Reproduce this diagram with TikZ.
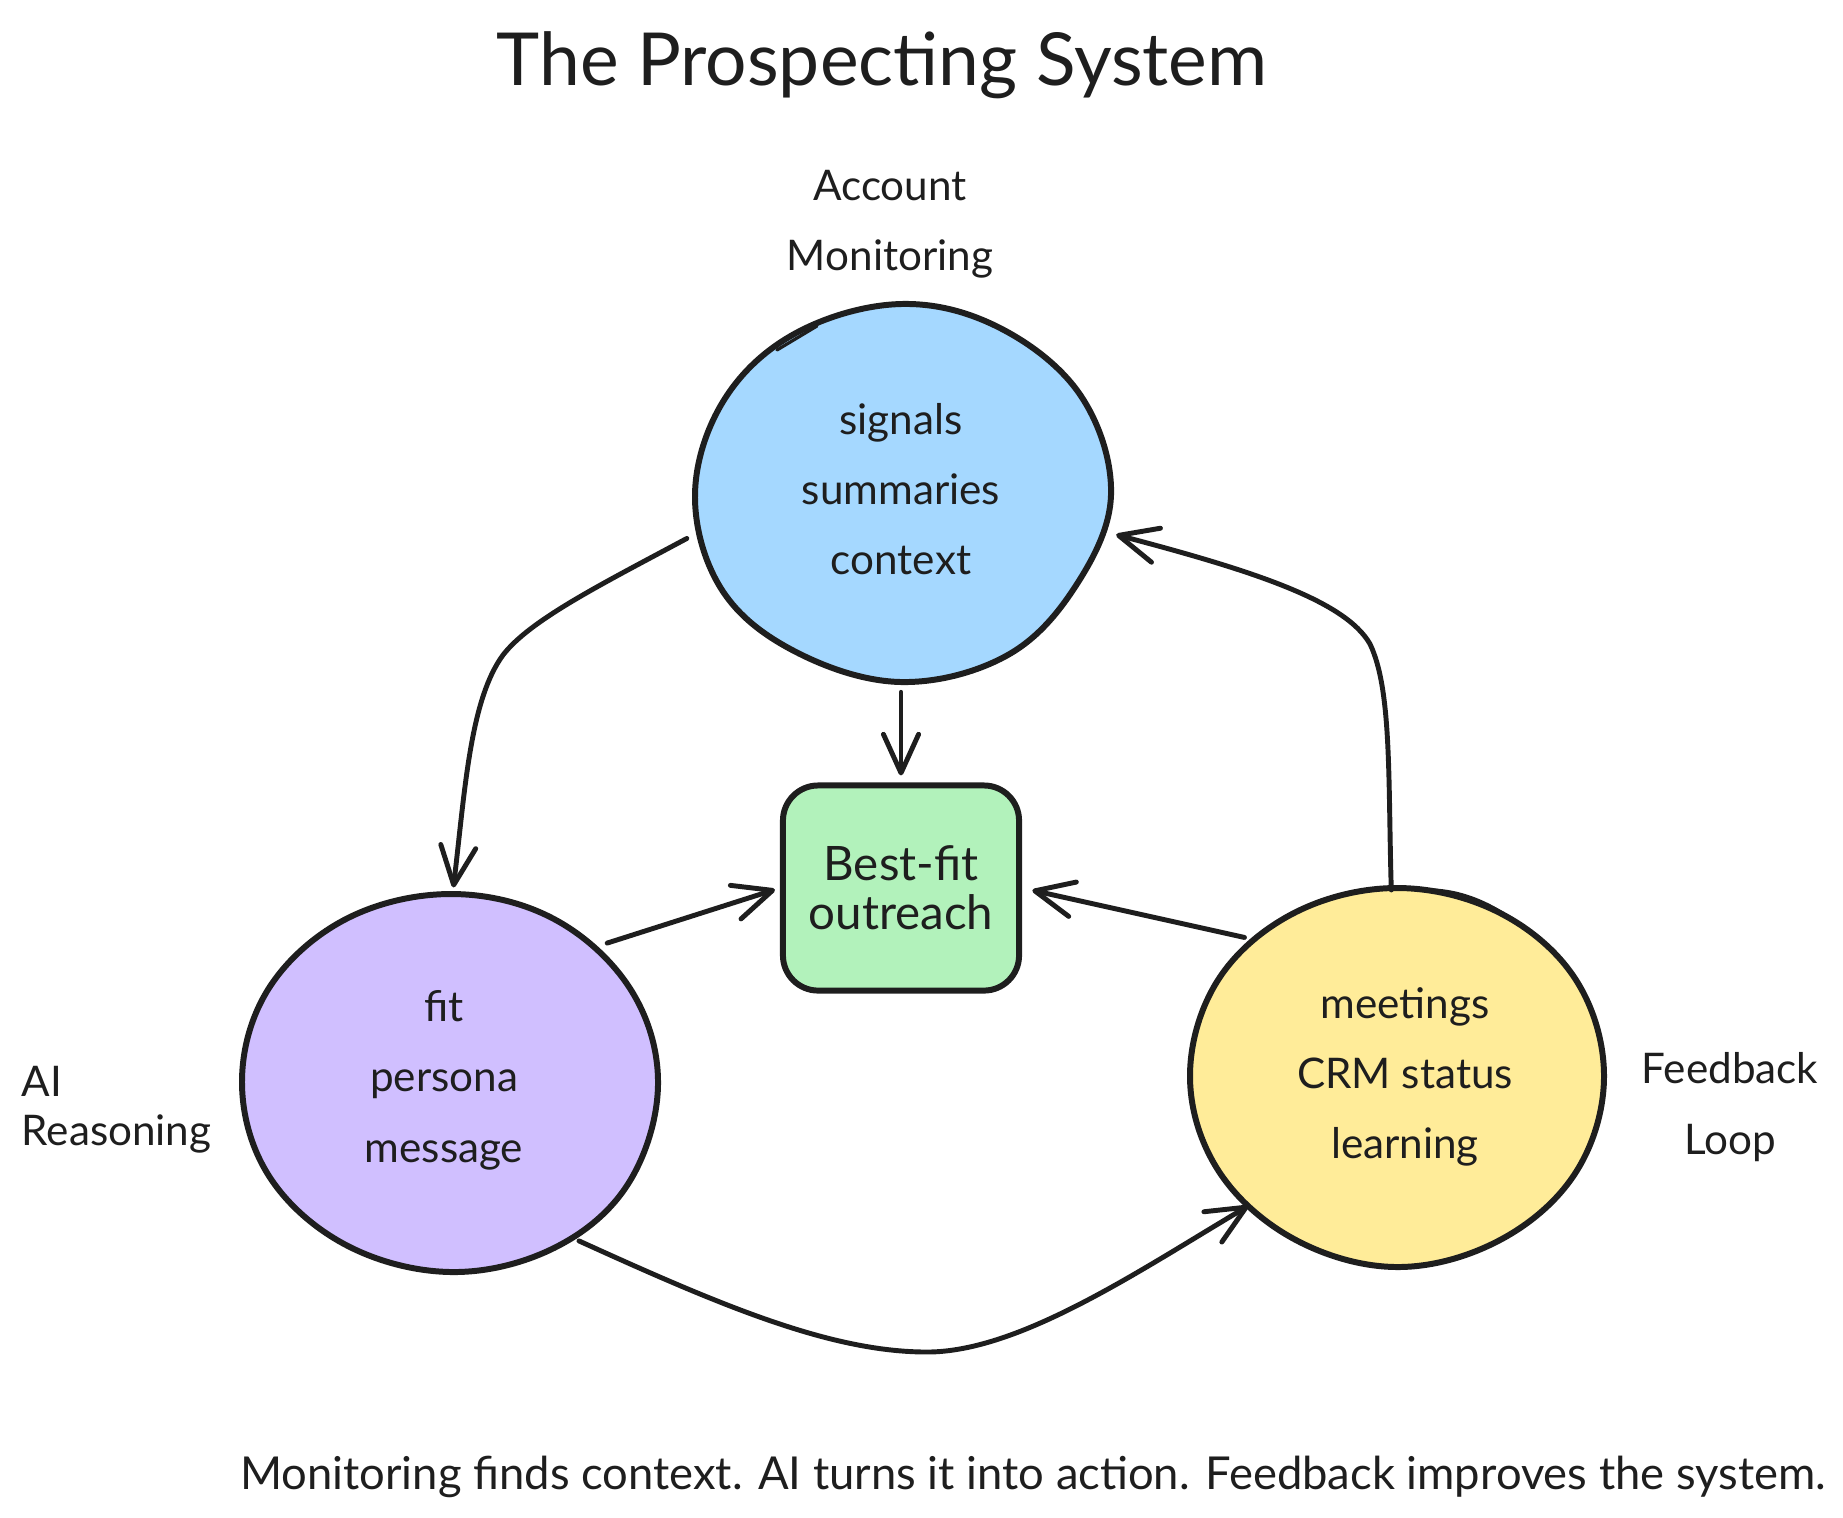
\documentclass[tikz,border=0pt]{standalone}
\usepackage{fontspec}
\setmainfont{Lato}
\usetikzlibrary{shapes.geometric,arrows.meta}
\definecolor{ink}{HTML}{1E1E1E}
\definecolor{skyfill}{HTML}{A5D8FF}
\definecolor{lilacfill}{HTML}{D0BFFF}
\definecolor{sandfill}{HTML}{FFEC99}
\definecolor{mintfill}{HTML}{B2F2BB}
\tikzset{
  blob/.style={draw=ink, line width=1.7pt, line join=round},
  hub/.style={ellipse, minimum width=4.4cm, minimum height=4.05cm, inner sep=0pt, align=center, text=ink, font=\fontsize{12}{20}\selectfont},
  tag/.style={align=center, text=ink, inner sep=0pt, font=\fontsize{12}{20}\selectfont},
  flow/.style={draw=ink, line width=1.4pt, line cap=round, -{Straight Barb[length=11pt,width=10pt,round]}},
}
\begin{document}
\begin{tikzpicture}[x=0.01cm,y=-0.01cm]
  \path[use as bounding box] (0,0) rectangle (1843,1517);
  % circles
  \draw[blob, fill=skyfill] plot[smooth cycle, tension=0.62] coordinates {(1111,495) (1081,396) (1000,328) (901,304) (796,333) (724,400) (695,495) (722,590) (796,652) (901,682) (1006,656) (1075,587)};
  \draw[blob, fill=lilacfill] plot[smooth cycle, tension=0.62] coordinates {(658,1085) (631,990) (554,919) (451,894) (346,919) (269,988) (242,1082) (269,1176) (346,1245) (451,1272) (554,1248) (628,1184)};
  \draw[blob, fill=sandfill] plot[smooth cycle, tension=0.62] coordinates {(1604,1076) (1576,980) (1500,913) (1397,888) (1294,913) (1218,980) (1190,1076) (1218,1170) (1294,1239) (1397,1267) (1500,1240) (1576,1172)};
  % second strokes
  \draw[ink, line width=0.9pt, line cap=round] (817,326) -- (777,350);
  \draw[ink, line width=0.9pt, line cap=round] (1433,890) .. controls (1459,891) and (1484,901) .. (1504,914);
  % texts
  \node[hub] (signals) at (901,489) {signals\\summaries\\context};
  \node[hub] (fit) at (444,1080) {fit\\persona\\message};
  \node[hub] (meetings) at (1405,1077) {meetings\\CRM status\\learning};
  \node[draw=ink, fill=mintfill, line width=1.7pt, rounded corners=10pt, minimum width=2.36cm, minimum height=2.05cm, inner sep=0pt, align=center, text=ink, font=\fontsize{13.5}{14}\selectfont] (bestfit) at (901,888) {Best-fit\\outreach};
  \node[tag, font=\fontsize{20.8}{28}\selectfont] (title) at (882,65) {The Prospecting System};
  \node[tag] (monitoring) at (890,224) {Account\\Monitoring};
  \node[tag, anchor=west, align=left, font=\fontsize{12}{14}\selectfont] (reasoning) at (21,1110) {AI\\Reasoning};
  \node[tag] (feedback) at (1730,1107) {Feedback\\Loop};
  \node[tag, font=\fontsize{12.9}{14}\selectfont] (caption) at (1033,1477) {Monitoring finds context. AI turns it into action. Feedback improves the system.};
  % connectors
  \draw[flow, shorten >=-3pt] (signals.193) .. controls (600,585) and (530,620) .. (503,655) .. controls (470,700) and (465,790) .. (fit.87);
  \draw[flow, shorten >=2pt] (signals.south) -- (bestfit.north);
  \draw[flow, shorten >=1.5pt] (fit.40) -- (bestfit.west);
  \draw[flow, shorten >=3pt] (meetings.139) -- (bestfit.east);
  \draw[flow, shorten <=-4.5pt] (meetings.94) .. controls (1388,780) and (1392,690) .. (1370,644) .. controls (1345,600) and (1250,570) .. (signals.348);
  \draw[flow, shorten >=-3pt] (fit.310) .. controls (720,1305) and (830,1352) .. (927,1352) .. controls (1020,1352) and (1140,1270) .. (meetings.219);
\end{tikzpicture}
\end{document}
